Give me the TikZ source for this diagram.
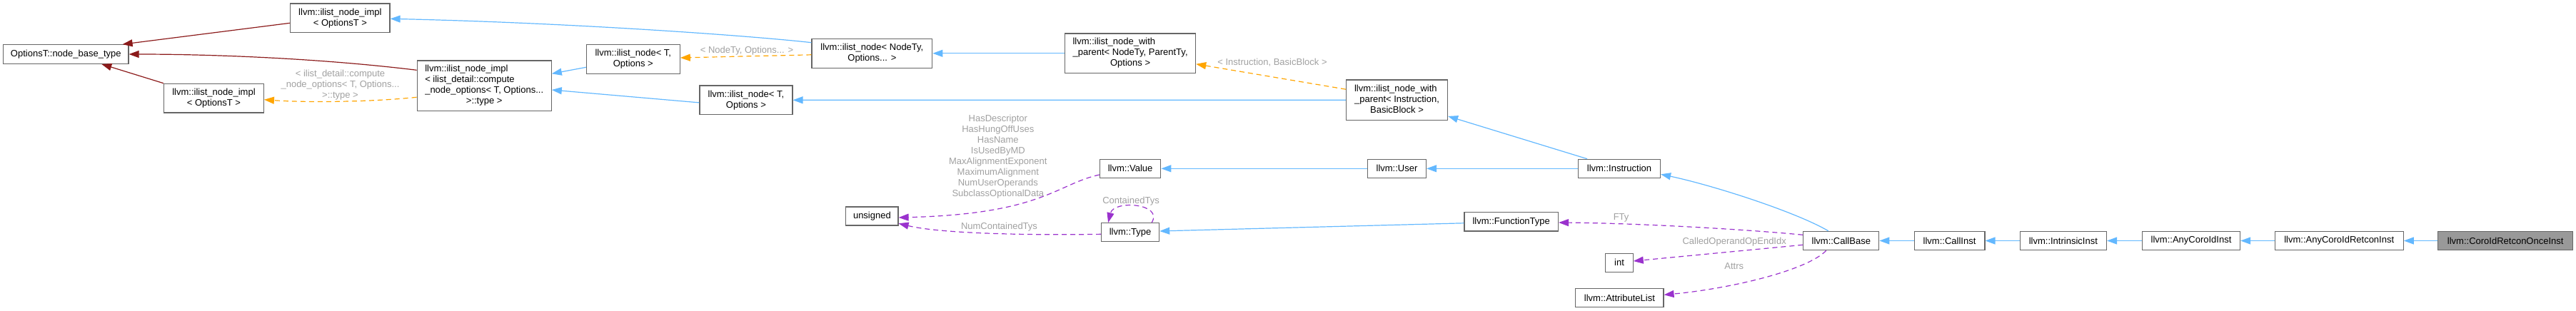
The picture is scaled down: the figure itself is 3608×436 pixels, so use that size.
\documentclass[tikz,border=0pt]{standalone}
\usepackage{fontspec}
\setmainfont{Liberation Sans}
\usetikzlibrary{arrows.meta}
\definecolor{boxgray}{RGB}{102,102,102}
\definecolor{fillgray}{RGB}{153,153,153}
\definecolor{inhblue}{RGB}{99,184,255}
\definecolor{privred}{RGB}{139,26,26}
\definecolor{tmplorange}{RGB}{255,165,0}
\definecolor{usepurple}{RGB}{154,50,205}
\definecolor{lblgray}{RGB}{160,160,160}
\begin{document}
\begin{tikzpicture}[x=1pt,y=-1pt,
  cls/.style={draw=boxgray, line width=1.2pt, fill=white, inner sep=0pt, align=center,
    font=\fontsize{13}{15}\selectfont},
  lbl/.style={inner sep=0pt, align=center, text=lblgray, font=\fontsize{13}{15}\selectfont},
  tip/.style={-{Triangle[length=14pt,width=10pt]}},
  inh/.style={draw=inhblue, line width=1.2pt, tip},
  priv/.style={draw=privred, line width=1.2pt, tip},
  tmpl/.style={draw=tmplorange, line width=1.2pt, dash pattern=on 7pt off 5pt, tip},
  usage/.style={draw=usepurple, line width=1.2pt, dash pattern=on 7pt off 5pt, tip}]
\useasboundingbox (0,0) rectangle (3608,436);

% nodes
\node[cls, minimum width=175.4pt, minimum height=26.6pt] (nbt) at (92.3,76) {OptionsT::node\_base\_type};
\node[cls, minimum width=139.2pt, minimum height=40.7pt] (implTop) at (476.4,25.3) {llvm::ilist\_node\_impl\\< OptionsT >};
\node[cls, minimum width=139.7pt, minimum height=40.7pt] (implLow) at (299.5,137.7) {llvm::ilist\_node\_impl\\< OptionsT >};
\node[cls, minimum width=188pt, minimum height=70.5pt] (compute) at (678.2,120.3)
  {\begin{tabular}{@{}l@{}}llvm::ilist\_node\_impl\\< ilist\_detail::compute\\\_node\_options< T, Options...\\\multicolumn{1}{@{}c@{}}{>::type >}\end{tabular}};
\node[cls, minimum width=130.8pt, minimum height=41pt] (nodeTOa) at (886.8,82.8) {llvm::ilist\_node< T,\\Options >};
\node[cls, minimum width=130pt, minimum height=40.7pt] (nodeTOb) at (1044.9,140.3) {llvm::ilist\_node< T,\\Options >};
\node[cls, minimum width=168.7pt, minimum height=41pt] (nodeNTy) at (1221.4,74.8) {llvm::ilist\_node< NodeTy,\\Options... >};
\node[cls, minimum width=183pt, minimum height=55.7pt] (nwpGen) at (1583.1,74.8)
  {\begin{tabular}{@{}l@{}}llvm::ilist\_node\_with\\\_parent< NodeTy, ParentTy,\\\multicolumn{1}{@{}c@{}}{Options >}\end{tabular}};
\node[cls, minimum width=142pt, minimum height=56.3pt] (nwpInst) at (1956.5,140.2)
  {\begin{tabular}{@{}l@{}}llvm::ilist\_node\_with\\\_parent< Instruction,\\\multicolumn{1}{@{}c@{}}{BasicBlock >}\end{tabular}};
\node[cls, minimum width=85.4pt, minimum height=26pt] (value) at (1583.1,236.3) {llvm::Value};
\node[cls, minimum width=82pt, minimum height=26pt] (user) at (1956.5,236.3) {llvm::User};
\node[cls, minimum width=115pt, minimum height=26pt] (instr) at (2268,236.3) {llvm::Instruction};
\node[cls, minimum width=73.2pt, minimum height=26pt] (unsigned) at (1221.4,303) {unsigned};
\node[cls, minimum width=81pt, minimum height=26pt] (type) at (1583.1,325.7) {llvm::Type};
\node[cls, minimum width=131.5pt, minimum height=26.3pt] (ftype) at (2116.7,310.8) {llvm::FunctionType};
\node[cls, minimum width=106pt, minimum height=26.3pt] (callbase) at (2578.8,337.5) {llvm::CallBase};
\node[cls, minimum width=38.3pt, minimum height=26pt] (int) at (2268,368.3) {int};
\node[cls, minimum width=123.1pt, minimum height=26.3pt] (attr) at (2268.4,417.5) {llvm::AttributeList};
\node[cls, minimum width=98.8pt, minimum height=26.3pt] (callinst) at (2730.5,337.5) {llvm::CallInst};
\node[cls, minimum width=121.3pt, minimum height=26.3pt] (intrinsic) at (2889.8,337.5) {llvm::IntrinsicInst};
\node[cls, minimum width=137pt, minimum height=26.3pt] (anycoro) at (3069,337.5) {llvm::AnyCoroIdInst};
\node[cls, minimum width=180pt, minimum height=26.3pt] (anyretcon) at (3276.2,337.5) {llvm::AnyCoroIdRetconInst};
\node[cls, fill=fillgray, minimum width=188.8pt, minimum height=26.3pt] (once) at (3509.2,337.5) {llvm::CoroIdRetconOnceInst};

% labels
\node[lbl] (lblCompute) at (476.5,119) {< ilist\_detail::compute\\\_node\_options< T, Options...\\>::type >};
\node[lbl] (lblNTy) at (1046,70.7) {< NodeTy, Options... >};
\node[lbl] (lblIB) at (1782,87.7) {< Instruction, BasicBlock >};
\node[lbl] (lblValue) at (1397.8,219.2) {HasDescriptor\\HasHungOffUses\\HasName\\IsUsedByMD\\MaxAlignmentExponent\\MaximumAlignment\\NumUserOperands\\SubclassOptionalData};
\node[lbl] (lblNCT) at (1399.5,318.3) {NumContainedTys};
\node[lbl] (lblCT) at (1584,281.7) {ContainedTys};
\node[lbl] (lblFTy) at (2270.6,305.3) {FTy};
\node[lbl] (lblCOE) at (2429.2,339.3) {CalledOperandOpEndIdx};
\node[lbl] (lblAttrs) at (2428.7,373.3) {Attrs};

% private (red) edges
\draw[priv] ([yshift=-7pt]implTop.west) -- ([xshift=-9pt]nbt.north east);
\draw[priv] ([yshift=22pt]compute.west) .. controls (450,82) and (300,76) .. (nbt.east);
\draw[priv] (implLow.north west) -- ([xshift=50pt]nbt.south);

% template (orange) edges
\draw[tmpl] ([yshift=-16pt]compute.west) .. controls (520,143) and (430,144) .. ([yshift=-2pt]implLow.east);
\draw[tmpl] ([yshift=-2pt]nodeNTy.west) -- ([yshift=1.8pt]nodeTOa.east);
\draw[tmpl] ([yshift=15pt]nwpInst.west) -- ([yshift=-15pt]nwpGen.east);

% inheritance (blue) edges
\draw[inh] ([yshift=-6pt]nodeNTy.north west) .. controls (1050,50) and (800,32) .. ([yshift=-1pt]implTop.east);
\draw[inh] ([yshift=-11.5pt]nodeTOa.west) -- ([yshift=17pt]compute.east);
\draw[inh] ([yshift=-3.6pt]nodeTOb.west) -- ([yshift=-5.7pt]compute.east);
\draw[inh] (nwpGen.west) -- (nodeNTy.east);
\draw[inh] (nwpInst.west) -- (nodeTOb.east);
\draw[inh] ([xshift=-45pt]instr.north) -- ([yshift=6pt]nwpInst.south east);
\draw[inh] (instr.west) -- (user.east);
\draw[inh] (user.west) -- (value.east);
\draw[inh] ([xshift=-18pt]callbase.north) .. controls (2515,297) and (2400,260) .. ([yshift=-8pt]instr.east);
\draw[inh] ([yshift=-2pt]ftype.west) -- ([yshift=1.7pt]type.east);
\draw[inh] (callinst.west) -- (callbase.east);
\draw[inh] (intrinsic.west) -- (callinst.east);
\draw[inh] (anycoro.west) -- (intrinsic.east);
\draw[inh] (anyretcon.west) -- (anycoro.east);
\draw[inh] (once.west) -- (anyretcon.east);

% usage (purple) edges
\draw[usage] ([yshift=-8.7pt]value.west) .. controls (1480,258) and (1460,300) .. ([yshift=-2pt]unsigned.east);
\draw[usage] ([yshift=-2.6pt]type.west) .. controls (1450,330) and (1320,328) .. ([yshift=-10.3pt]unsigned.east);
\draw[usage] ([xshift=30pt]type.north) .. controls (1630,285) and (1560,280) .. ([xshift=-31pt]type.north);
\draw[usage] ([yshift=8.2pt]callbase.west) .. controls (2450,322) and (2300,313) .. ([yshift=-1.2pt]ftype.east);
\draw[usage] ([yshift=-5.8pt]callbase.west) -- ([yshift=2.3pt]int.east);
\draw[usage] ([xshift=-21pt]callbase.south) .. controls (2530,380) and (2420,405) .. ([yshift=4.2pt]attr.east);
\end{tikzpicture}
\end{document}
